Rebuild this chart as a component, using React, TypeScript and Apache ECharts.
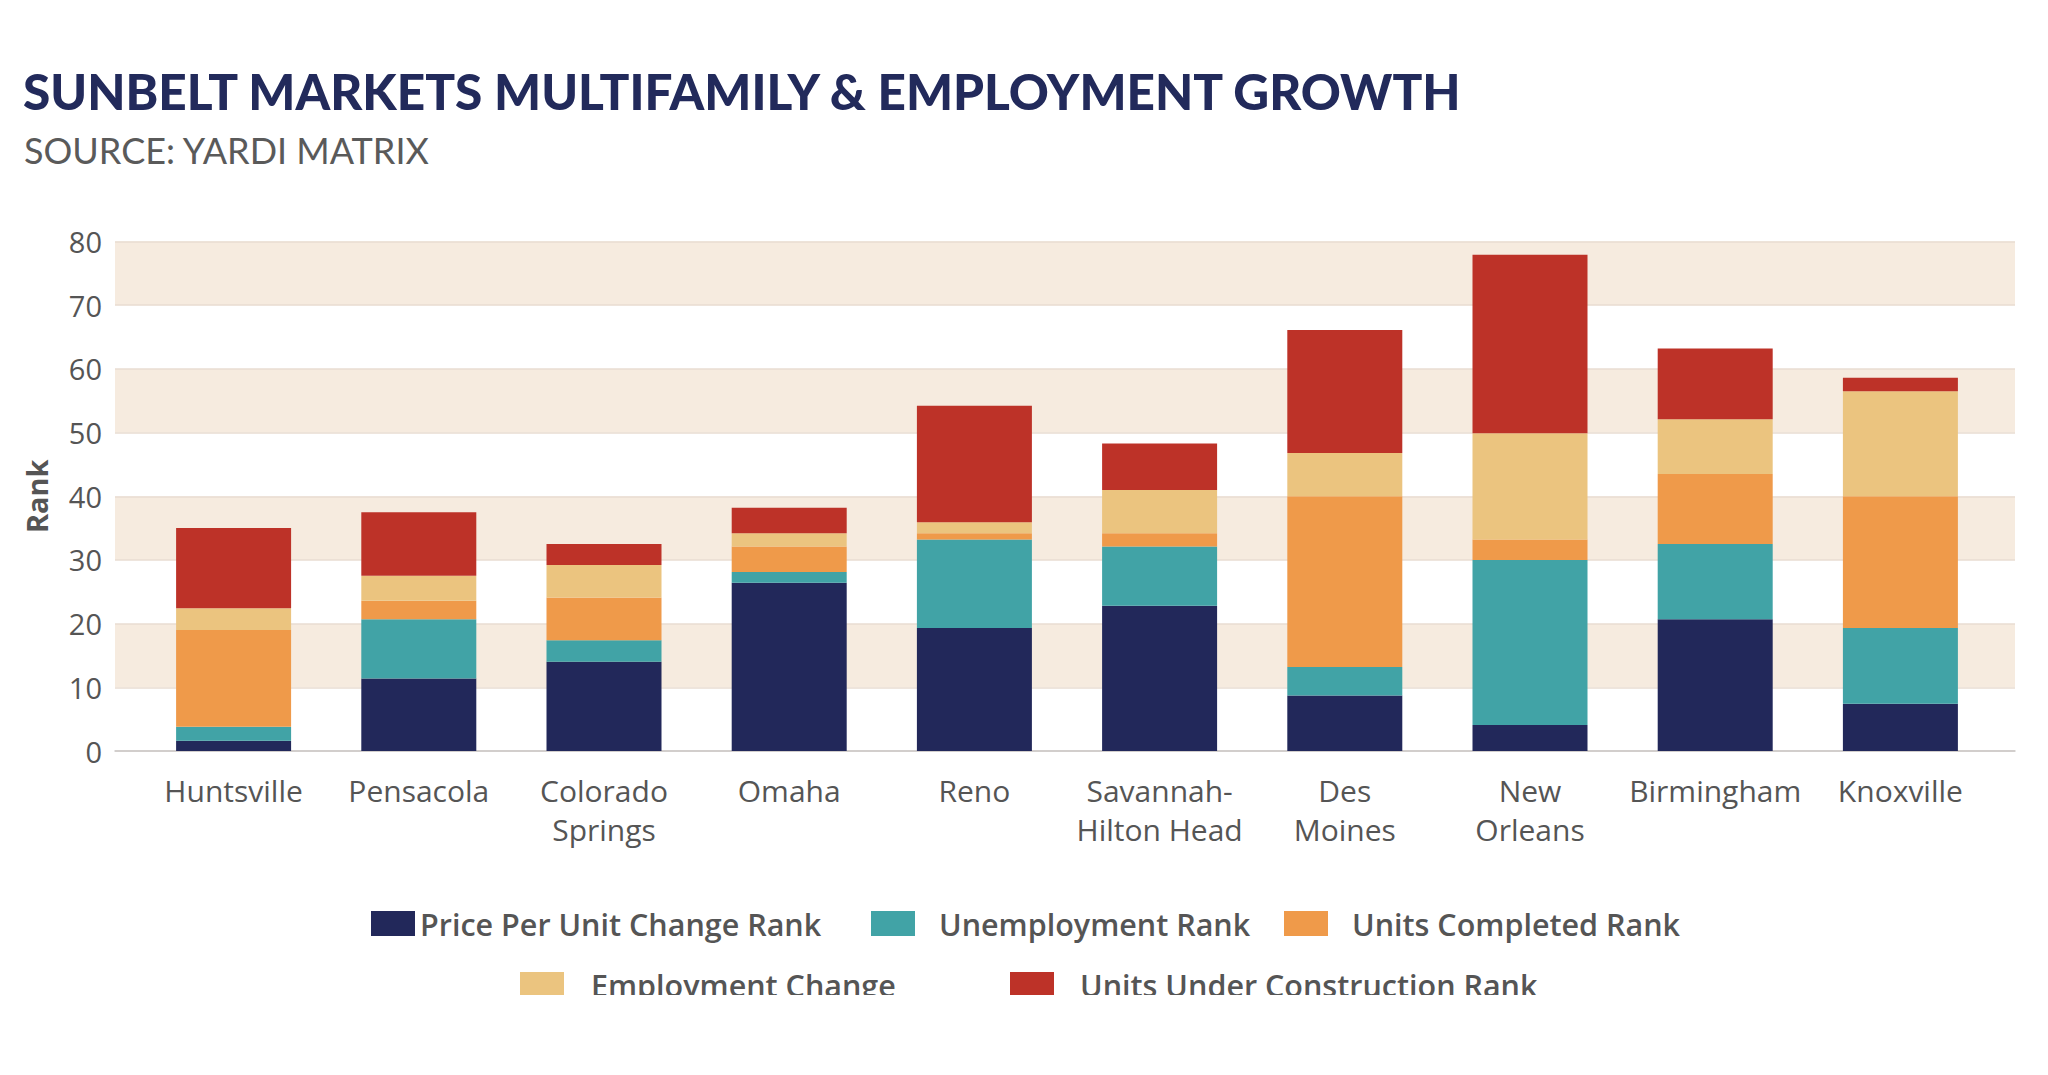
import React, { useEffect, useRef } from "react";
import * as echarts from "echarts";

const categories = [
  "Huntsville",
  "Pensacola",
  "Colorado\nSprings",
  "Omaha",
  "Reno",
  "Savannah-\nHilton Head",
  "Des\nMoines",
  "New\nOrleans",
  "Birmingham",
  "Knoxville",
];

const priceRank = [1.6, 11.4, 14.0, 26.4, 19.3, 22.8, 8.7, 4.1, 20.7, 7.4];
const unemploymentRank = [2.2, 9.3, 3.4, 1.7, 13.9, 9.3, 4.5, 25.9, 11.8, 11.9];
const unitsCompletedRank = [15.2, 2.9, 6.7, 4.0, 1.0, 2.1, 26.8, 3.2, 11.0, 20.7];
const employmentChange = [3.4, 3.9, 5.1, 2.1, 1.7, 6.8, 6.8, 16.7, 8.6, 16.5];
const underConstructionRank = [12.6, 10.0, 3.3, 4.0, 18.3, 7.3, 19.3, 28.0, 11.1, 2.1];

const seriesNames = [
  "Price Per Unit Change Rank",
  "Unemployment Rank",
  "Units Completed Rank",
  "Employment Change",
  "Units Under Construction Rank",
];
const seriesData = [
  priceRank,
  unemploymentRank,
  unitsCompletedRank,
  employmentChange,
  underConstructionRank,
];
const colors = ["#22285a", "#41a3a6", "#ef9a4a", "#ebc47f", "#bd3228"];

const yTicks = { min: 0, max: 80, interval: 10 };

const TITLE_FONT = "Lato, 'Noto Sans', sans-serif";
const FONT = "'Open Sans', 'Noto Sans', sans-serif";

export default function App() {
  const ref = useRef<HTMLDivElement>(null);

  useEffect(() => {
    if (!ref.current) return;
    const chart = echarts.init(ref.current, null, { renderer: "svg" });

    const legendPos = [
      { left: 371, top: 908, pad: 0 },
      { left: 871, top: 908, pad: 19 },
      { left: 1284, top: 908, pad: 19 },
      { left: 520, top: 969, pad: 22 },
      { left: 1010, top: 969, pad: 21 },
    ];

    const option: any = {
      animation: false,
      backgroundColor: "#ffffff",
      title: [
        {
          text: "SUNBELT MARKETS MULTIFAMILY & EMPLOYMENT GROWTH",
          left: 23,
          top: 61,
          padding: 0,
          textStyle: {
            fontFamily: TITLE_FONT,
            fontSize: 49.5,
            fontWeight: 900,
            color: "#222a5b",
            lineHeight: 60,
          },
        },
        {
          text: "SOURCE: YARDI MATRIX",
          left: 24,
          top: 130,
          padding: 0,
          textStyle: {
            fontFamily: TITLE_FONT,
            fontSize: 36,
            fontWeight: "normal",
            color: "#5a5a5a",
            lineHeight: 40,
          },
        },
      ],
      legend: seriesNames.map((n, i) => ({
        data: [n],
        left: legendPos[i].left,
        top: legendPos[i].top,
        padding: 0,
        itemWidth: 44,
        itemHeight: 25,
        icon: "rect",
        selectedMode: false,
        textStyle: {
          fontFamily: FONT,
          fontSize: 30.5,
          fontWeight: 600,
          color: "#555555",
          lineHeight: 25,
          padding: [0, 0, 0, legendPos[i].pad],
        },
      })),
      grid: [
        { left: 115, right: 33, top: 241.5, bottom: 244, containLabel: false },
        { left: 141, right: 55, top: 241.5, bottom: 244, containLabel: false },
      ],
      xAxis: [
        {
          type: "value",
          gridIndex: 0,
          min: 0,
          max: 1,
          axisLine: { show: true, onZero: false, lineStyle: { color: "#c9c6c6", width: 1.5 } },
          axisTick: { show: false },
          axisLabel: { show: false },
          splitLine: { show: false },
        },
        {
          type: "category",
          gridIndex: 1,
          data: categories,
          axisLine: { show: false },
          axisTick: { show: false },
          axisLabel: {
            interval: 0,
            margin: 20,
            fontFamily: FONT,
            fontSize: 30,
            color: "#555555",
            lineHeight: 39,
          },
        },
      ],
      yAxis: [
        {
          type: "value",
          gridIndex: 0,
          min: yTicks.min,
          max: yTicks.max,
          interval: yTicks.interval,
          name: "Rank",
          nameLocation: "middle",
          nameGap: 64,
          nameRotate: 90,
          nameTextStyle: {
            fontFamily: FONT,
            fontSize: 29,
            fontWeight: "bold",
            color: "#555555",
          },
          axisLine: { show: false },
          axisTick: { show: false },
          axisLabel: {
            margin: 13,
            fontFamily: FONT,
            fontSize: 29,
            color: "#555555",
          },
          splitLine: { show: true, lineStyle: { color: "#e8dcd2", width: 1.5 } },
          splitArea: { show: true, areaStyle: { color: ["#ffffff", "#f6ebdf"] } },
        },
        {
          type: "value",
          gridIndex: 1,
          min: yTicks.min,
          max: yTicks.max,
          interval: yTicks.interval,
          show: false,
          splitLine: { show: false },
        },
      ],
      series: seriesNames.map((n, i) => ({
        name: n,
        type: "bar",
        stack: "total",
        xAxisIndex: 1,
        yAxisIndex: 1,
        barWidth: 115,
        data: seriesData[i],
        itemStyle: { color: colors[i] },
      })),
    };

    chart.setOption(option);
    return () => chart.dispose();
  }, []);

  return (
    <div
      ref={ref}
      style={{ position: "fixed", left: 0, top: 0, width: 2048, height: 995, background: "#fff" }}
    />
  );
}
